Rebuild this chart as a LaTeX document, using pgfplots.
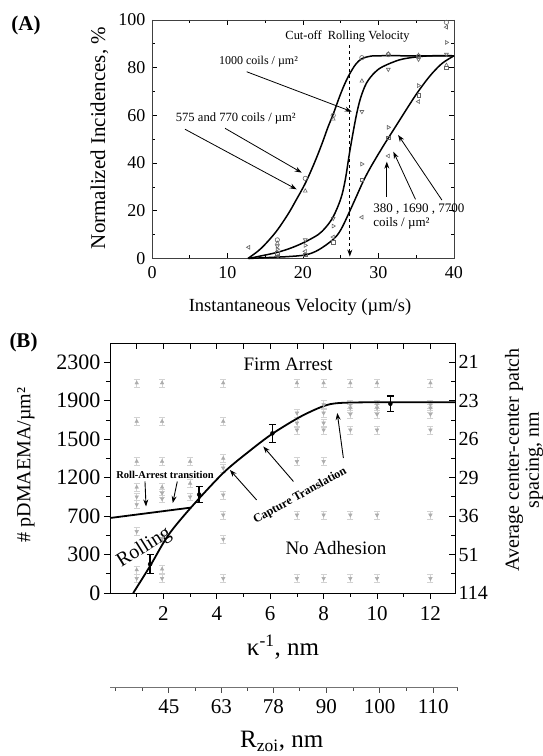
\documentclass[border=0pt]{standalone}
\usepackage{fontspec}
\setmainfont{Liberation Serif}
\usepackage{pgfplots}
\pgfplotsset{compat=1.18}
\usetikzlibrary{arrows.meta}
\newcommand{\fs}[1]{\fontsize{#1}{#1}\selectfont}
\pgfplotsset{
  omk/.style={only marks, mark size=2.2pt},
  gmk/.style={only marks, mark=triangle*, mark size=2.1pt, color=gray!65,
    error bars/y dir=both, error bars/y fixed=0.1,
    error bars/error bar style={gray!35, line width=0.5pt},
    error bars/error mark options={rotate=90, gray!35, mark size=3pt, line width=0.5pt}},
}
\begin{document}
\begin{tikzpicture}[x=1pt,y=1pt]
\useasboundingbox (0,0) rectangle (543,756);
\node[font=\fs{21}\bfseries] at (26,731) {(A)};
\node[font=\fs{21}\bfseries] at (23.5,414) {(B)};
% ---------------- Panel A ----------------
\begin{axis}[at={(152pt,497.5pt)}, anchor=south west, width=302pt, height=238.5pt, scale only axis,
  xmin=0, xmax=40, ymin=0, ymax=100,
  xtick={0,10,...,40}, ytick={0,20,...,100}, minor x tick num=1, minor y tick num=1,
  tick align=inside, major tick length=5pt, minor tick length=3pt,
  every tick/.style={black, line width=0.7pt},
  axis line style={line width=0.8pt, black!75},
  /pgf/number format/assume math mode=true,
  xticklabel style={font=\fs{18}, yshift=-5pt},
  yticklabel style={font=\fs{18}, xshift=-3pt},
  clip=false]
\addplot[omk, mark=o, mark options={draw=black!60, line width=0.6pt}] coordinates {(16.6,7.8)(20.3,33.6)(24.0,60)(27.8,84.2)(31.3,85.5)(35.3,84.8)(39.0,99)};
\addplot[omk, mark=triangle, mark options={draw=black!60, line width=0.6pt}] coordinates {(16.6,6.4)(20.3,28.3)(24.0,58.5)(27.8,74.4)(31.3,85.8)(35.3,85.2)(39.0,81)};
\addplot[omk, mark=triangle, mark options={rotate=180, draw=black!60, line width=0.6pt}] coordinates {(16.6,5.2)(20.3,7.8)(24.0,16.8)(27.8,61.6)(31.3,79.3)(35.3,83.5)(39.0,85.6)};
\addplot[omk, mark=triangle, mark options={rotate=-90, draw=black!60, line width=0.6pt}] coordinates {(16.6,3.9)(20.3,5.5)(24.0,13.6)(27.8,39.6)(31.3,55)(35.3,72.5)(39.0,90.6)};
\addplot[omk, mark=square, mark size=1.7pt, mark options={draw=black!60, line width=0.6pt}] coordinates {(16.6,2.2)(20.3,1.6)(24.0,6.8)(27.8,32.9)(31.3,50.7)(35.3,68.5)(39.0,80)};
\addplot[omk, mark=triangle, mark options={rotate=90, draw=black!60, line width=0.6pt}] coordinates {(12.8,4.7)(16.6,1.0)(20.3,3)(24.0,9)(27.8,17.3)(31.3,43)(35.3,65.8)(39.0,97)};
% fitted curves
\addplot[black, line width=1.5pt, smooth, tension=0.55] coordinates {(12.7,0)(14,3)(15,6)(16.5,11.5)(18,18.5)(19,24)(20.3,31.5)(21.5,40)(22.5,48)(23.3,55)(24,60.5)(24.8,67.5)(25.5,73)(26.2,77.5)(27,81.5)(27.8,83.8)(28.9,84.8)(30,85)(35,85)(40,85)};
\addplot[black, line width=1.5pt, smooth, tension=0.55] coordinates {(12.8,0)(14,0.8)(16.5,2.5)(18.5,4.5)(20.3,7)(22,10)(23,13)(24,17.5)(25,25)(25.6,33)(26.2,45)(27,59)(27.6,67)(28.4,73.5)(29.5,78)(30.6,80.5)(32.8,83.3)(35,84.5)(37,85)(40,85)};
\addplot[black, line width=1.5pt, smooth, tension=0.55] coordinates {(12.8,0)(16,0.5)(18,0.8)(20.3,1.5)(22,3.5)(24,8)(25,12)(26,18.5)(27,25.5)(28,32.5)(29,38.5)(30.6,47)(32,54)(32.8,58)(34,64)(35.1,69.3)(36.3,74.5)(37.3,78.3)(38.5,82)(40,85)};
% annotations
\node[font=\fs{12.4}] at (axis cs:25.9,93) {Cut-off\ \ Rolling Velocity};
\draw[dashed, line width=0.8pt, -{Stealth[length=7pt,width=5pt]}] (axis cs:26.2,89.5) -- (axis cs:26.2,0.8);
\node[font=\fs{12}] at (axis cs:14.1,82.5) {1000 coils / µm²};
\draw[line width=0.8pt, -{Stealth[length=7pt,width=5pt]}] (axis cs:12.54,78.3) -- (axis cs:26.45,61.6);
\node[font=\fs{12.6}] at (axis cs:11.1,58.8) {575 and 770 coils / µm²};
\draw[line width=0.8pt, -{Stealth[length=7pt,width=5pt]}] (axis cs:4.37,54.2) -- (axis cs:19.16,29.0);
\draw[line width=0.8pt, -{Stealth[length=7pt,width=5pt]}] (axis cs:9.67,54.6) -- (axis cs:19.83,36.0);
\node[font=\fs{13}, anchor=west, inner sep=0pt] at (axis cs:29.3,20.6) {380 , 1690 , 7700};
\node[font=\fs{13}, anchor=west, inner sep=0pt] at (axis cs:29.3,14.8) {coils / µm²};
\draw[line width=0.8pt, -{Stealth[length=7pt,width=5pt]}] (axis cs:31.1,25.9) -- (axis cs:31.1,40.6);
\draw[line width=0.8pt, -{Stealth[length=7pt,width=5pt]}] (axis cs:34.9,24.8) -- (axis cs:31.97,44.8);
\draw[line width=0.8pt, -{Stealth[length=7pt,width=5pt]}] (axis cs:38.4,24.5) -- (axis cs:32.6,51.8);
\end{axis}
\node[font=\fs{18.5}] at (300,449) {Instantaneous Velocity (µm/s)};
\node[font=\fs{21}, rotate=90] at (99.4,618) {Normalized Incidences, \%};
% ---------------- Panel B ----------------
\begin{axis}[at={(110pt,163pt)}, anchor=south west, width=345pt, height=250pt, scale only axis,
  xmin=0, xmax=12.92, ymin=0, ymax=6.5,
  xtick={2,4,...,12}, minor xtick={1,3,...,11},
  ytick={0,...,6}, yticklabels={0,300,700,1200,1500,1900,2300},
  minor ytick={0.5,1.5,...,5.5},
  tick pos=left, tick align=outside, major tick length=6pt, minor tick length=4pt,
  every tick/.style={black, line width=0.8pt},
  axis line style={line width=0.9pt, black},
  /pgf/number format/assume math mode=true,
  yticklabel style={font=\fs{22}}, xticklabel style={font=\fs{21}, yshift=-4pt},
  clip=false]
% grey background data (triangles with error bars)
\addplot[gmk] coordinates {(1.0,5.46)(1.95,5.46)(4.24,5.46)(7,5.46)(8,5.46)(9,5.46)(10,5.46)(12,5.46)
  (1.0,4.46)(1.95,4.46)(4.24,4.46)(1.0,3.42)(1.95,3.42)(3.0,3.42)(4.24,3.5)
  (1.0,2.75)(1.95,2.75)(3.0,2.85)(1.0,0.6)(1.95,0.62)};
\addplot[gmk, mark options={rotate=180}] coordinates {(1.0,2.5)(1.0,2.3)(1.0,1.6)(1.0,0.38)
  (1.95,2.6)(1.95,2.45)(1.95,1.42)(1.95,0.38)(3.0,2.5)
  (4.24,3.25)(4.24,2.55)(4.24,2.03)(4.24,1.4)(4.24,0.38)
  (7,4.68)(7,4.42)(7,4.24)(7,3.42)(7,2.03)(7,0.38)
  (8,4.9)(8,4.68)(8,4.42)(8,4.24)(8,3.42)(8,2.03)(8,0.38)
  (9,4.9)(9,4.81)(9,4.65)(9,4.24)(9,2.03)(9,0.38)
  (10,4.9)(10,4.81)(10,4.65)(10,4.24)(10,2.03)(10,0.38)
  (12,4.9)(12,4.81)(12,4.65)(12,4.24)(12,2.03)(12,0.38)};
% boundary curves
\addplot[black, line width=1.8pt] coordinates {(0,1.95)(3.03,2.22)};
\addplot[black, line width=1.8pt, smooth, tension=0.5] coordinates {(0.87,0)(1.5,0.7)(2.18,1.5)(3.03,2.22)(4.24,3.12)(5.24,3.7)(6.08,4.14)(7.12,4.58)(8.0,4.86)(8.6,4.94)(10,4.96)(12.92,4.96)};
% black error bars
\addplot[only marks, mark=none, black, error bars/.cd, y dir=both, y explicit,
  error bar style={line width=1.4pt, black},
  error mark options={rotate=90, black, mark size=3.5pt, line width=1.2pt}]
  coordinates {(1.5,0.75) +- (0,0.25) (3.34,2.56) +- (0,0.21) (6.08,4.15) +- (0,0.23) (10.5,4.92) +- (0,0.2)};
% annotations
\node[font=\fs{19}] at (axis cs:6.67,5.94) {Firm Arrest};
\node[font=\fs{19}] at (axis cs:8.46,1.16) {No Adhesion};
\node[font=\fs{20}, rotate=32] at (axis cs:1.28,1.18) {Rolling};
\node[font=\fs{10.5}\bfseries] at (axis cs:2.06,3.07) {Roll-Arrest transition};
\draw[line width=0.9pt, -{Stealth[length=7pt,width=5pt]}] (axis cs:1.31,2.9) -- (axis cs:1.35,2.25);
\draw[line width=0.9pt, -{Stealth[length=7pt,width=5pt]}] (axis cs:2.52,2.9) -- (axis cs:2.35,2.34);
\node[font=\fs{12}\bfseries, rotate=29] at (axis cs:7.12,2.53) {Capture Translation};
\draw[line width=0.9pt, -{Stealth[length=7pt,width=5pt]}] (axis cs:5.49,2.42) -- (axis cs:4.49,3.2);
\draw[line width=0.9pt, -{Stealth[length=7pt,width=5pt]}] (axis cs:6.87,2.9) -- (axis cs:5.74,3.81);
\draw[line width=0.9pt, -{Stealth[length=7pt,width=5pt]}] (axis cs:8.74,3.51) -- (axis cs:8.51,4.68);
\end{axis}
\begin{axis}[at={(110pt,163pt)}, anchor=south west, width=345pt, height=250pt, scale only axis,
  xmin=0, xmax=12.92, ymin=0, ymax=6.5,
  xtick={1,...,12}, xticklabels={},
  ytick={0,...,6}, yticklabels={114,51,36,29,26,23,21},
  minor ytick={0.5,1.5,...,5.5},
  tick pos=right, yticklabel pos=right, tick align=inside, major tick length=6pt, minor tick length=4pt,
  every tick/.style={black, line width=0.8pt},
  axis line style={line width=0.9pt, black},
  /pgf/number format/assume math mode=true,
  yticklabel style={font=\fs{20}}]
\addplot[draw=none] coordinates {(0,0)};
\end{axis}
% R_zoi axis
\begin{axis}[at={(110pt,68.3pt)}, anchor=south west, width=348pt, height=10pt, scale only axis,
  xmin=0, xmax=13.03, ymin=0, ymax=1,
  axis x line*=bottom, hide y axis,
  xtick={2.2,4.17,6.12,8.1,10.1,12.1}, xticklabels={45,63,78,90,100,110},
  minor xtick={0.2,1.2,3.2,5.15,7.1,9.1,11.1,13.0},
  tick align=outside, major tick length=5pt, minor tick length=3pt,
  every tick/.style={black!70, line width=0.8pt},
  axis line style={line width=0.9pt, black!55, -},
  /pgf/number format/assume math mode=true,
  xticklabel style={font=\fs{21}, yshift=-3pt}]
\addplot[draw=none] coordinates {(1,0.5)};
\end{axis}
\node[font=\fs{20}, rotate=90] at (26,291) {\# pDMAEMA/µm²};
\node[font=\fs{20}, rotate=90, align=center] at (524,296) {Average center-center patch\\spacing, nm};
\node[font=\fs{25}] at (283,109.3) {κ\textsuperscript{-1}, nm};
\node[font=\fs{25}] at (281.7,14.3) {R\textsubscript{zoi}, nm};
\end{tikzpicture}
\end{document}
